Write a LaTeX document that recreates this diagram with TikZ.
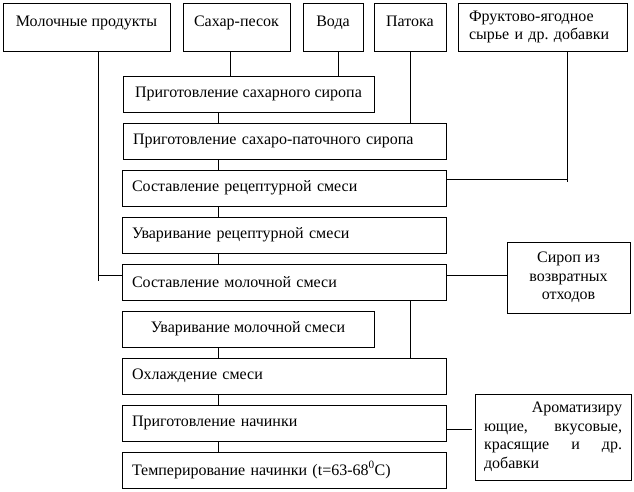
\documentclass[tikz,border=0pt]{standalone}
\usepackage{fontspec}
\setmainfont{Liberation Serif}
\begin{document}
\frenchspacing
\begin{tikzpicture}[x=1pt,y=-1pt,
  every node/.style={font=\fontsize{16}{18.5}\selectfont},
  bx/.style={draw, line width=1pt, inner sep=0pt},
  topbx/.style={bx, text height=23pt, text depth=25pt, inner ysep=0pt},
  pbx/.style={bx, minimum height=36pt, inner xsep=10pt, align=left},
  ln/.style={line width=1pt}]
\useasboundingbox (0,0) rectangle (634,491);
% top raw materials
\node[topbx, minimum width=167pt] (milk) at (86.5,27) {Молочные продукты};
\node[topbx, minimum width=107pt] (sugar) at (236.5,27) {Сахар-песок};
\node[topbx, minimum width=60pt] (water) at (333,27) {Вода};
\node[topbx, minimum width=72pt] (patoka) at (410,27) {Патока};
\node[bx, minimum height=48pt, text width=147pt, inner xsep=11pt, align=left] (fruit) at (542.5,27) {Фруктово-ягодное\\сырье и др. добавки};
% process steps
\node[bx, minimum width=251pt, minimum height=36pt] (s1) at (248.5,94) {Приготовление сахарного сиропа};
\node[pbx, text width=303pt] (s2) at (284.5,141) {Приготовление сахаро-паточного сиропа};
\node[pbx, text width=304pt] (s3) at (284,188) {Составление рецептурной смеси};
\node[pbx, text width=304pt] (s4) at (284,235) {Уваривание рецептурной смеси};
\node[pbx, text width=304pt] (s5) at (284,282) {Составление молочной смеси};
\node[bx, minimum width=252pt, minimum height=36pt] (s6) at (248,329) {Уваривание молочной смеси};
\node[pbx, text width=304pt] (s7) at (284,376) {Охлаждение смеси};
\node[pbx, text width=304pt] (s8) at (284,423) {Приготовление начинки};
\node[pbx, text width=304pt] (s9) at (284,470) {Темперирование начинки (t=63-68\textsuperscript{0}C)};
% side inputs
\node[bx, minimum width=123pt, minimum height=71pt, align=center] (sirop) at (568.5,277.5) {Сироп из\\возвратных\\отходов};
\node[bx, minimum height=86pt, text width=138pt, inner xsep=9pt, align=left] (arom) at (553,437)
  {\makebox[\linewidth][r]{Ароматизиру}\\\makebox[\linewidth][l]{ющие,\hfill вкусовые,}\\\makebox[\linewidth][l]{красящие\hfill и\hfill др.}\\добавки};
% lane coordinates
\coordinate (mk) at (98,281);
\coordinate (mh) at (98,275);
\coordinate (sx) at (230,0);
\coordinate (wx) at (338,0);
\coordinate (px) at (410,0);
\coordinate (fk) at (567,182);
\coordinate (fh) at (567,179);
\coordinate (cx) at (218,0);
\coordinate (ax) at (472,429);
% connectors
\draw[ln] (milk.south -| mk) -- (mk);
\draw[ln] (mh) -- (mh -| s5.west);
\draw[ln] (sugar.south -| sx) -- (s1.north -| sx);
\draw[ln] (water.south -| wx) -- (s1.north -| wx);
\draw[ln] (patoka.south -| px) -- (s2.north -| px);
\draw[ln] (fruit.south -| fk) -- (fk);
\draw[ln] (fh) -- (fh -| s3.east);
\draw[ln] (s1.south -| cx) -- (s2.north -| cx);
\draw[ln] (s2.south -| cx) -- (s3.north -| cx);
\draw[ln] (s3.south -| cx) -- (s4.north -| cx);
\draw[ln] (s4.south -| cx) -- (s5.north -| cx);
\draw[ln] (s6.south -| cx) -- (s7.north -| cx);
\draw[ln] (s7.south -| cx) -- (s8.north -| cx);
\draw[ln] (s8.south -| cx) -- (s9.north -| cx);
\draw[ln] (s5.south -| px) -- (s7.north -| px);
\draw[ln] (mh -| s5.east) -- (mh -| sirop.west);
\draw[ln] (ax -| s8.east) -- (ax);
\end{tikzpicture}
\end{document}
